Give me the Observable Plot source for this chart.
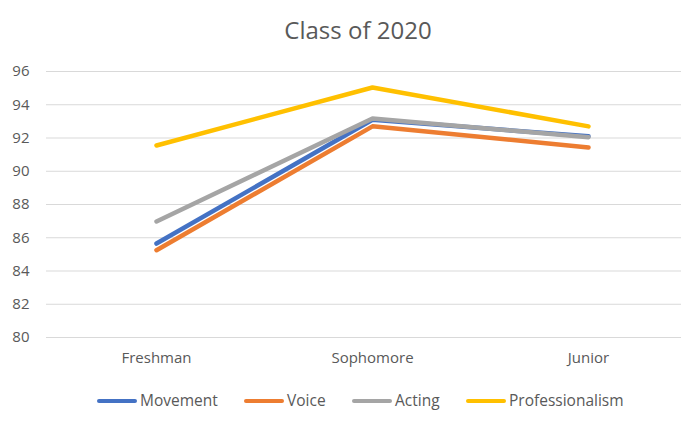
<!DOCTYPE html>
<html>
<head>
<meta charset="utf-8">
<script src="https://cdn.jsdelivr.net/npm/d3@7"></script>
<script src="https://cdn.jsdelivr.net/npm/@observablehq/plot@0.6"></script>
<style>
  body { margin: 0; background: #fff; }
  #wrap { position: relative; width: 681px; height: 426px; font-family: "Open Sans", sans-serif; color: #595959; overflow: hidden; }
  #title { position: absolute; top: 13px; left: 0; width: 716px; text-align: center; font-size: 24px; color: #595959; }
  #legend { position: absolute; top: 389px; left: 0; width: 681px; font-size: 15.5px; color: #595959; }
  .item { position: absolute; top: 0; white-space: nowrap; }
  .sw { display: inline-block; width: 40px; height: 4px; border-radius: 2px; vertical-align: middle; margin-right: 3px; position: relative; top: -1px; }
  #chart { position: absolute; top: 0; left: 0; }
</style>
</head>
<body>
<div id="wrap">
  <div id="chart"></div>
  <div id="title">Class of 2020</div>
  <div id="legend"></div>
</div>
<script>
const categories = ["Freshman", "Sophomore", "Junior"];
const seriesNames = ["Movement", "Voice", "Acting", "Professionalism"];
const movement = [85.65, 93.1, 92.1];
const voice = [85.25, 92.7, 91.43];
const acting = [86.98, 93.17, 92.05];
const professionalism = [91.55, 95.04, 92.7];
const yTicks = [80, 82, 84, 86, 88, 90, 92, 94, 96];
const colors = ["#4472C4", "#ED7D31", "#A5A5A5", "#FFC000"];

const seriesValues = [movement, voice, acting, professionalism];
const data = [];
seriesNames.forEach((s, i) => categories.forEach((c, j) => data.push({series: s, category: c, value: seriesValues[i][j]})));

const chart = Plot.plot({
  width: 681,
  height: 426,
  marginTop: 71,
  marginBottom: 89,
  marginLeft: 46,
  marginRight: 0,
  style: {fontFamily: "'Open Sans', sans-serif", fontSize: "15px", color: "#595959", background: "transparent"},
  x: {type: "point", domain: categories, range: [155, 588], padding: 0, label: null},
  y: {domain: [80, 96], ticks: yTicks, label: null},
  color: {domain: seriesNames, range: colors},
  marks: [
    Plot.ruleY(yTicks, {stroke: "#d9d9d9", strokeWidth: 1}),
    Plot.axisY({ticks: yTicks, tickSize: 0, tickPadding: 17, label: null, tickFormat: d => String(d), fill: "#595959"}),
    Plot.axisX({tickSize: 0, tickPadding: 15, label: null, fill: "#595959"}),
    Plot.line(data, {x: "category", y: "value", z: "series", stroke: "series", strokeWidth: 4.5, strokeLinecap: "round", strokeLinejoin: "round"})
  ]
});
document.getElementById("chart").appendChild(chart);

const legendPos = [97, 244, 352, 466];
const legend = document.getElementById("legend");
seriesNames.forEach((s, i) => {
  const d = document.createElement("div");
  d.className = "item";
  d.style.left = legendPos[i] + "px";
  d.innerHTML = `<span class="sw" style="background:${colors[i]}"></span>${s}`;
  legend.appendChild(d);
});
</script>
</body>
</html>
